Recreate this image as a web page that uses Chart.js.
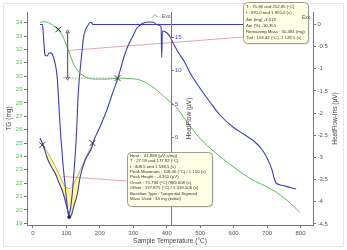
<!DOCTYPE html>
<html><head><meta charset="utf-8">
<script src="https://cdn.jsdelivr.net/npm/chart.js@4.4.1/dist/chart.umd.min.js"></script>
<style>html,body{margin:0;padding:0;background:#fff;}#wrap{width:347px;height:250px;}</style>
</head><body><div id="wrap"><canvas id="c" width="347" height="250"></canvas></div>
<script>
// ---- data ----
const tgT    = [21,36,51,66,75,90,102,111,120,132,147,164,194,224,254,290,320,359,401,431,461,499,544,589,649,718,760,798];
const tgMass = [34.03,34.07,33.94,33.68,33.45,32.93,32.18,31.58,30.98,30.46,30.08,29.86,29.78,29.78,29.86,29.82,29.71,29.18,28.28,27.61,26.56,25.36,24.31,23.41,22.36,21.47,20.72,19.82];

const hfT   = [21,30,45,57,66,78,87,96,105,111,117,123,132,141,156,176.5,179.4,200,221,236,254,266,275,284,296,311,326,344,359,374,383,385,387,401,410,419,434,455,470,499,529,559,598,634,664,688,703,715,721,727,748,769,787];
const hfVal = [-0.15,-1.2,-3.45,-4.65,-5.4,-6.9,-7.95,-9.45,-11.25,-12.0,-11.4,-10.2,-8.7,-6.0,-3.45,-1.5,-0.9,1.5,4.05,6.3,8.85,10.95,12.45,13.65,14.85,16.35,17.0,17.25,17.2,16.8,16.5,11.9,15.9,15.6,15.0,14.1,12.75,11.1,9.6,7.35,5.25,3.3,1.5,0.3,-0.75,-2.1,-3.45,-4.95,-6.15,-6.9,-7.27,-7.57,-7.8];

const irisT   = [21,28,30,33,36,42,48,54,60,66,72,75,79,84,90,96,102,106,111,117,123,129,132,135,141,147,151,157,165,171,175,179,634];
const irisVal = [0,0,-0.12,-0.46,-0.69,-0.71,-0.65,-0.64,-0.71,-0.87,-1.16,-1.48,-2.04,-2.61,-3.17,-3.62,-4.07,-4.3,-4.2,-3.85,-3.28,-2.61,-2.15,-1.59,-1.03,-0.58,-0.30,-0.12,-0.01,0.045,0.045,0,0];

const baseT   = [29.9,56.8,74.8,89.7,101.7,110.7,119.6,134.6,149.5,164.5,179.4];
const baseVal = [-1.2,-3.45,-5.25,-6.9,-7.65,-7.72,-7.2,-5.7,-4.05,-2.4,-0.9];

const tangA_T = [104.7, 640];  const tangA_mg = [31.92, 32.95];
const tangB_T = [89.7, 300];   const tangB_hf = [-5.92, -6.67];
const stepT   = [103.42, 103.42]; const stepMg = [33.32, 29.84];
const levelT  = [90, 254];     const levelMg = [29.86, 29.86];
const tgLimT  = [75.96, 252.85]; const tgLimMg = [33.5, 29.86];
const pkLimT  = [27.59, 177.82]; const pkLimHF = [-1.2, -0.9];
const pkMaxT  = [108.46];      const pkMaxHF = [-12.0];

const xTicks    = [0,100,200,300,400,500,600,700,800];
const tgTicks   = [19,20,21,22,23,24,25,26,27,28,29,30,31,32,33,34];
const hfTicks   = [-10,-5,0,5,10,15];
const irisTicks = [0,-0.5,-1,-1.5,-2,-2.5,-3,-3.5,-4,-4.5];
const hfAxisAt  = 412.7;

const tgBox = ["T : 75.96 and 252.85 (°C)","t : 970.0 and 1 955.0 (s)","Δm (mg) -3.519","Δm (%) -10.351","Remaining Mass : 30.481 (mg)","Tinf : 103.42 (°C), 1 128.5 (s)"];
const heatBox = ["Heat :  41.869 (µV·s/mg)","T : 27.59 and 177.82 (°C)","t : 408.5 and 1 538.5 (s)","Peak Maximum : 108.46 (°C) / 1 150 (s)","Peak Height : -4.351 (µV)","Onset : 75.794 (°C) /969.008 (s)","Offset : 137.875 (°C) / 1 319.506 (s)","Baseline Type : Tangential Sigmoid","Mass Used : 34 mg (initial)"];

// ---- helpers ----
const zip = (xs, ys) => xs.map((x, i) => ({x, y: ys[i]}));
const FONT = '"Liberation Sans", Arial, sans-serif';
const GREEN = '#55bf55', BLUE = '#3c3cc0', PINK = '#dcaab4';

const hfPts = zip(hfT, hfVal);
const peakPts = hfPts.filter(p => p.x >= baseT[0] && p.x <= baseT[baseT.length - 1]);

const line = (data, color, axis, extra) => Object.assign({
  data, borderColor: color, borderWidth: 1, pointRadius: 0, yAxisID: axis,
  fill: false, cubicInterpolationMode: 'monotone'
}, extra || {});

const datasets = [
  line(zip(tgLimT, tgLimMg), '#333', 'yTG', {showLine: false, pointRadius: 4, pointStyle: 'crossRot', pointBorderColor: '#333', pointBorderWidth: 1}),
  line(zip(pkLimT, pkLimHF), '#333', 'yHF', {showLine: false, pointRadius: 4, pointStyle: 'crossRot', pointBorderColor: '#333', pointBorderWidth: 1}),
  line(zip(pkMaxT, pkMaxHF), '#2020a0', 'yHF', {showLine: false, pointRadius: 1.5, pointBackgroundColor: '#2020a0'}),
  line(zip(stepT, stepMg), '#666', 'yTG', {pointRadius: 2, pointStyle: 'triangle', pointRotation: [0, 180], pointBackgroundColor: '#fff', pointBorderColor: '#666', cubicInterpolationMode: 'default'}),
  line(zip(levelT, levelMg), '#999', 'yTG', {borderDash: [1.5, 1.5], cubicInterpolationMode: 'default'}),
  line(zip(tgT, tgMass), GREEN, 'yTG'),
  line(hfPts, BLUE, 'yHF', {borderWidth: 1.1}),
  line(zip(irisT, irisVal), BLUE, 'yIris', {borderWidth: 1.1}),
  line(zip(baseT, baseVal), '#9a9a70', 'yHF', {borderWidth: 0.8}),
  line(zip(tangA_T, tangA_mg), PINK, 'yTG', {cubicInterpolationMode: 'default'}),
  line(zip(tangB_T, tangB_hf), PINK, 'yHF', {cubicInterpolationMode: 'default'}),
  line(peakPts, 'rgba(0,0,0,0)', 'yHF', {borderWidth: 0, fill: 8, backgroundColor: 'rgba(255,250,120,0.85)'})
];

function roundBox(ctx, x, y, w, h, r) {
  ctx.save();
  ctx.fillStyle = 'rgba(0,0,0,0.12)';
  ctx.beginPath(); ctx.roundRect(x + 1.5, y + 1.5, w, h, r); ctx.fill();
  ctx.fillStyle = '#ffffe4'; ctx.strokeStyle = '#9c9c8c'; ctx.lineWidth = 1;
  ctx.beginPath(); ctx.roundRect(x + 0.5, y + 0.5, w, h, r); ctx.fill(); ctx.stroke();
  ctx.restore();
}

const deco = {
  id: 'deco',
  beforeDraw(chart) {
    const ctx = chart.ctx;
    ctx.save();
    ctx.fillStyle = '#fff'; ctx.fillRect(0, 0, chart.width, chart.height);
    ctx.strokeStyle = '#e4e7ee'; ctx.lineWidth = 1;
    ctx.strokeRect(3.5, 3.5, chart.width - 7, chart.height - 7);
    ctx.restore();
  },
  afterDatasetsDraw(chart) {
    const {ctx, chartArea} = chart;
    const xs = chart.scales.x, ys = chart.scales.yHF;
    const ax = Math.round(xs.getPixelForValue(hfAxisAt)) + 0.5;
    ctx.save();
    ctx.strokeStyle = '#777'; ctx.lineWidth = 1;
    ctx.beginPath(); ctx.moveTo(ax, chartArea.top); ctx.lineTo(ax, chartArea.bottom); ctx.stroke();
    ctx.font = '6px ' + FONT; ctx.fillStyle = '#4a4ac8'; ctx.textAlign = 'left'; ctx.textBaseline = 'middle';
    hfTicks.forEach(v => {
      const y = Math.round(ys.getPixelForValue(v)) + 0.5;
      ctx.beginPath(); ctx.moveTo(ax, y); ctx.lineTo(ax + 2.5, y); ctx.stroke();
      ctx.fillText(String(v), ax + 3.5, y);
    });
    ctx.save();
    ctx.translate(ax + 18, (chartArea.top + chartArea.bottom) / 2);
    ctx.rotate(-Math.PI / 2);
    ctx.textAlign = 'center'; ctx.fillStyle = '#444'; ctx.font = '6.5px ' + FONT;
    ctx.fillText('HeatFlow (µV)', 0, 0);
    ctx.restore();
    // Exo marker near middle axis
    ctx.strokeStyle = '#888'; ctx.lineWidth = 0.8;
    ctx.beginPath(); ctx.moveTo(152, 17.5); ctx.lineTo(155, 14.5); ctx.lineTo(158, 17.5); ctx.stroke();
    ctx.fillStyle = '#555'; ctx.font = '5px ' + FONT; ctx.textAlign = 'left';
    ctx.fillText('Exo', 162, 16.5);
    ctx.restore();
  },
  afterDraw(chart) {
    const {ctx, chartArea} = chart;
    ctx.save();
    // right axis title
    ctx.save();
    ctx.translate(335, (chartArea.top + chartArea.bottom) / 2);
    ctx.rotate(-Math.PI / 2);
    ctx.textAlign = 'center'; ctx.textBaseline = 'middle'; ctx.fillStyle = '#444'; ctx.font = '6.5px ' + FONT;
    ctx.fillText('HeatFlow-Iris (µV)', 0, 0);
    ctx.restore();
    // boxes
    roundBox(ctx, 243, 2, 65, 41, 4);
    ctx.fillStyle = '#333'; ctx.font = '4.3px ' + FONT; ctx.textAlign = 'left'; ctx.textBaseline = 'middle';
    tgBox.forEach((t, i) => ctx.fillText(t, 246, 7 + i * 6.2));
    ctx.fillStyle = '#555'; ctx.font = '5px ' + FONT;
    ctx.fillText('Exo', 302, 18);
    roundBox(ctx, 127, 152, 85, 54, 4);
    ctx.fillStyle = '#333'; ctx.font = '4.3px ' + FONT;
    heatBox.forEach((t, i) => ctx.fillText(t, 130, 155.5 + i * 5.45));
    ctx.restore();
  }
};

const tickOpts = (color) => ({color, font: {size: 6, family: FONT}, padding: 1.5, autoSkip: false, maxRotation: 0, callback: v => String(v)});

new Chart(document.getElementById('c'), {
  type: 'line',
  data: {datasets},
  options: {
    responsive: false, animation: false, devicePixelRatio: 1,
    layout: {padding: {top: 12, left: 0, right: 0, bottom: 0}},
    plugins: {legend: {display: false}, tooltip: {enabled: false}},
    scales: {
      x: {
        type: 'linear', position: 'bottom', min: -17.9, max: 837.4,
        afterBuildTicks: s => { s.ticks = xTicks.map(v => ({value: v})); },
        afterFit: s => { s.height = 25; },
        ticks: Object.assign(tickOpts('#555'), {padding: 2}),
        grid: {drawOnChartArea: false, tickLength: 3, color: '#777'},
        border: {display: true, color: '#777'},
        title: {display: true, text: 'Sample Temperature (°C)', color: '#444', font: {size: 6.5, family: FONT}, padding: {top: 0, bottom: 5}}
      },
      yTG: {
        type: 'linear', position: 'left', min: 18.87, max: 34.8,
        afterBuildTicks: s => { s.ticks = tgTicks.map(v => ({value: v})); },
        afterFit: s => { s.width = 27; },
        ticks: tickOpts(GREEN),
        grid: {drawOnChartArea: false, tickLength: 3, color: '#777'},
        border: {display: true, color: '#777'},
        title: {display: true, text: 'TG (mg)', color: '#444', font: {size: 6.5, family: FONT}, padding: {top: 5, bottom: 0}}
      },
      yHF: {type: 'linear', display: false, min: -13.2, max: 18.75},
      yIris: {
        type: 'linear', position: 'right', min: -4.523, max: 0.282,
        afterBuildTicks: s => { s.ticks = irisTicks.map(v => ({value: v})); },
        afterFit: s => { s.width = 34; },
        ticks: tickOpts('#555'),
        grid: {drawOnChartArea: false, tickLength: 3, color: '#777'},
        border: {display: true, color: '#777'}
      }
    }
  },
  plugins: [deco]
});
</script>
</body></html>
